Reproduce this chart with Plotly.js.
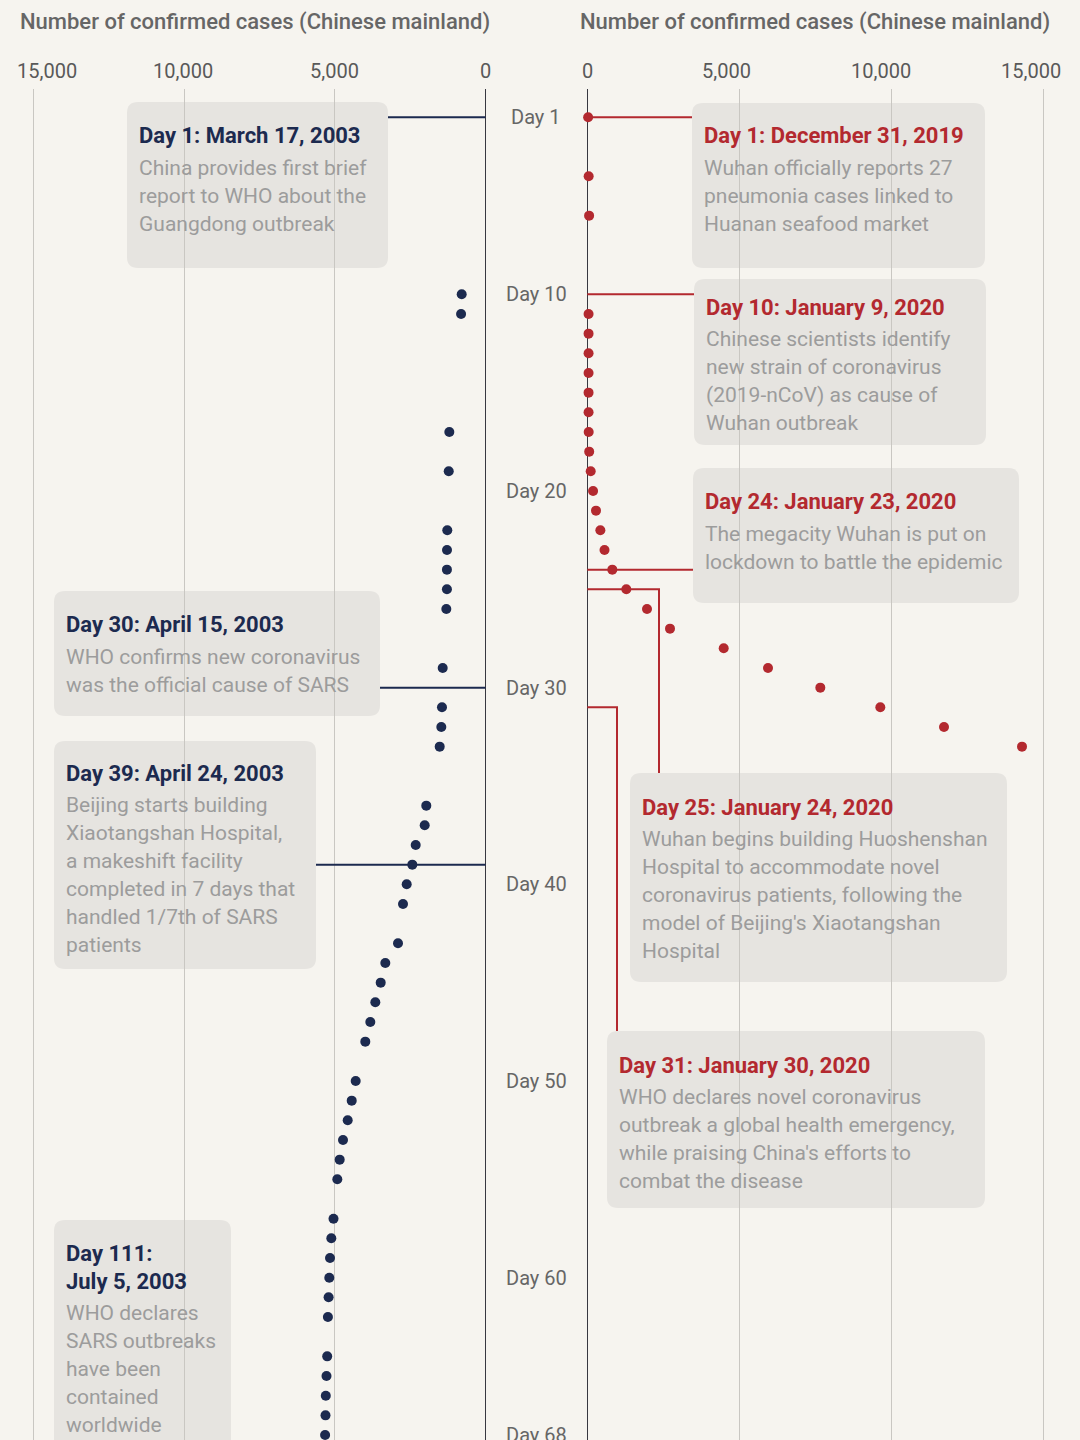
<!DOCTYPE html>
<html>
<head>
<meta charset="utf-8">
<script src="https://cdn.plot.ly/plotly-3.0.1.min.js"></script>
<style>
  html, body { margin: 0; padding: 0; background: #f6f4ef; }
  #chart { width: 1080px; height: 1440px; }
</style>
</head>
<body>
<div id="chart"></div>
<script>
// ---------------- DATA ----------------
// SARS 2003 (left panel): day number and confirmed cases (Chinese mainland)
const sarsDays  = [10, 11, 17, 19, 22, 23, 24, 25, 26, 29, 31, 32, 33, 36, 37, 38, 39, 40, 41, 43, 44, 45, 46, 47, 48, 50, 51, 52, 53, 54, 55, 57, 58, 59, 60, 61, 62, 64, 65, 66, 67, 68];
const sarsCases = [790, 810, 1200, 1220, 1268, 1278, 1280, 1280, 1300, 1420, 1444, 1467, 1520, 1965, 2018, 2316, 2429, 2615, 2738, 2904, 3325, 3478, 3657, 3823, 3989, 4308, 4440, 4573, 4729, 4839, 4918, 5044, 5117, 5160, 5184, 5207, 5230, 5253, 5277, 5300, 5310, 5323];

// 2019-nCoV (right panel)
const covidDays  = [1, 4, 6, 11, 12, 13, 14, 15, 16, 17, 18, 19, 20, 21, 22, 23, 24, 25, 26, 27, 28, 29, 30, 31, 32, 33];
const covidCases = [27, 44, 59, 41, 41, 41, 41, 41, 41, 45, 62, 112, 190, 286, 430, 566, 823, 1284, 1965, 2722, 4490, 5948, 7670, 9645, 11741, 14309];

// Axis ticks
const caseTickVals   = [0, 5000, 10000, 15000];
const caseTickLabels = ['0', '5,000', '10,000', '15,000'];
const dayTickDays    = [1, 10, 20, 30, 40, 50, 60, 68];
const dayTickLabels  = ['Day 1', 'Day 10', 'Day 20', 'Day 30', 'Day 40', 'Day 50', 'Day 60', 'Day 68'];
const axisTitleText  = 'Number of confirmed cases (Chinese mainland)';

// Events
const sarsEventDays   = [1, 30, 39, 111];
const sarsEventTitles = [
  ['Day 1: March 17, 2003'],
  ['Day 30: April 15, 2003'],
  ['Day 39: April 24, 2003'],
  ['Day 111:', 'July 5, 2003']
];
const sarsEventTexts = [
  ['China provides first brief', 'report to WHO about the', 'Guangdong outbreak'],
  ['WHO confirms new coronavirus', 'was the official cause of SARS'],
  ['Beijing starts building', 'Xiaotangshan Hospital,', 'a makeshift facility', 'completed in 7 days that', 'handled 1/7th of SARS', 'patients'],
  ['WHO declares', 'SARS outbreaks', 'have been', 'contained', 'worldwide']
];

const covidEventDays   = [1, 10, 24, 25, 31];
const covidEventTitles = [
  ['Day 1: December 31, 2019'],
  ['Day 10: January 9, 2020'],
  ['Day 24: January 23, 2020'],
  ['Day 25: January 24, 2020'],
  ['Day 31: January 30, 2020']
];
const covidEventTexts = [
  ['Wuhan officially reports 27', 'pneumonia cases linked to', 'Huanan seafood market'],
  ['Chinese scientists identify', 'new strain of coronavirus', '(2019-nCoV) as cause of', 'Wuhan outbreak'],
  ['The megacity Wuhan is put on', 'lockdown to battle the epidemic'],
  ['Wuhan begins building Huoshenshan', 'Hospital to accommodate novel', 'coronavirus patients, following the', "model of Beijing's Xiaotangshan", 'Hospital'],
  ['WHO declares novel coronavirus', 'outbreak a global health emergency,', "while praising China's efforts to", 'combat the disease']
];

// ---------------- LAYOUT GEOMETRY (pixels) ----------------
const W = 1080, H = 1440, MT = 89;
const LEFT_DOMAIN_PX  = [0, 510];
const RIGHT_DOMAIN_PX = [560, 1080];
const LEFT_RANGE  = [16112, -813];
const RIGHT_RANGE = [-899, 16218];
const Y_RANGE     = [68.254, -0.439];
const TICK_LABEL_Y = 71;
const TITLE_Y = 22;
const LEFT_TICK_SHIFT  = [0, 0, -1, 13];   // label nudges (px) for 0, 5,000, 10,000, 15,000
const RIGHT_TICK_SHIFT = [0, -13, -10, -12];

// annotation box geometry (x0, x1, y0, y1 in px; elbow = x of vertical connector; ty = title offset)
const sarsBoxes = [
  {x0: 127, x1: 388, y0: 102, y1: 268, ty: 34},
  {x0: 54,  x1: 380, y0: 591, y1: 716, ty: 34},
  {x0: 54,  x1: 316, y0: 741, y1: 969, ty: 32},
  {x0: 54,  x1: 231, y0: 1220, y1: 1470, ty: 33}
];
const covidBoxes = [
  {x0: 692, x1: 985,  y0: 103, y1: 268, ty: 33},
  {x0: 694, x1: 986,  y0: 279, y1: 445, ty: 28},
  {x0: 693, x1: 1019, y0: 468, y1: 603, ty: 34},
  {x0: 630, x1: 1007, y0: 773, y1: 982, ty: 34, elbow: 659},
  {x0: 607, x1: 985,  y0: 1031, y1: 1208, ty: 34, elbow: 617}
];

const FONT = 'Roboto, "Open Sans", sans-serif';
const BG = '#f6f4ef';
const BOX_FILL = '#e6e4e0';
const NAVY = '#1c2a4f';
const RED = '#b3292f';
const BODY_GRAY = '#9c9c9c';

function pxX(px) { return px / W; }
function pxY(py) { return (H - py) / (H - MT); }
function pxToDay(py) {
  const frac = (py - MT) / (H - MT);
  return Y_RANGE[1] + frac * (Y_RANGE[0] - Y_RANGE[1]);
}
function pxToVal(px, domPx, range) {
  const f = (px - domPx[0]) / (domPx[1] - domPx[0]);
  return range[0] + f * (range[1] - range[0]);
}

function roundRect(b, r) {
  const P = (x, y) => pxX(x).toFixed(5) + ',' + pxY(y).toFixed(5);
  return 'M' + P(b.x0 + r, b.y0) + ' L' + P(b.x1 - r, b.y0) + ' Q' + P(b.x1, b.y0) + ' ' + P(b.x1, b.y0 + r) +
         ' L' + P(b.x1, b.y1 - r) + ' Q' + P(b.x1, b.y1) + ' ' + P(b.x1 - r, b.y1) +
         ' L' + P(b.x0 + r, b.y1) + ' Q' + P(b.x0, b.y1) + ' ' + P(b.x0, b.y1 - r) +
         ' L' + P(b.x0, b.y0 + r) + ' Q' + P(b.x0, b.y0) + ' ' + P(b.x0 + r, b.y0) + ' Z';
}

// ---------------- TRACES ----------------
const traces = [
  {
    type: 'scatter', mode: 'markers', x: sarsCases, y: sarsDays, xaxis: 'x', yaxis: 'y',
    marker: {size: 10, color: NAVY}, hoverinfo: 'skip', cliponaxis: false
  },
  {
    type: 'scatter', mode: 'markers', x: covidCases, y: covidDays, xaxis: 'x2', yaxis: 'y',
    marker: {size: 10, color: RED}, hoverinfo: 'skip', cliponaxis: false
  }
];

// ---------------- SHAPES & ANNOTATIONS ----------------
const shapes = [];
const annotations = [];

function addEvent(day, titles, texts, box, color, side) {
  shapes.push({type: 'path', xref: 'paper', yref: 'paper', path: roundRect(box, 11),
               fillcolor: BOX_FILL, line: {width: 0}, layer: 'below'});
  // connector
  if (day <= Y_RANGE[0]) {
    if (side === 'left') {
      const xEnd = pxToVal(box.x1, LEFT_DOMAIN_PX, LEFT_RANGE);
      shapes.push({type: 'line', xref: 'x', yref: 'y', x0: 0, x1: xEnd, y0: day, y1: day,
                   line: {color: color, width: 2}, layer: 'between'});
    } else if (box.elbow) {
      const xe = pxToVal(box.elbow, RIGHT_DOMAIN_PX, RIGHT_RANGE);
      const yTop = pxToDay(box.y0);
      shapes.push({type: 'path', xref: 'x2', yref: 'y',
                   path: 'M0,' + day + ' L' + xe + ',' + day + ' L' + xe + ',' + yTop,
                   line: {color: color, width: 2}, layer: 'between'});
    } else {
      const xEnd = pxToVal(box.x0, RIGHT_DOMAIN_PX, RIGHT_RANGE);
      shapes.push({type: 'line', xref: 'x2', yref: 'y', x0: 0, x1: xEnd, y0: day, y1: day,
                   line: {color: color, width: 2}, layer: 'between'});
    }
  }
  const tx = box.x0 + 10;
  let y = box.y0 + box.ty;
  titles.forEach((t) => {
    annotations.push({xref: 'paper', yref: 'paper', x: pxX(tx), y: pxY(y), xanchor: 'left', yanchor: 'middle',
      text: '<b>' + t + '</b>', showarrow: false, align: 'left',
      font: {family: FONT, size: 22, color: color}});
    y += 28;
  });
  y += 4;
  texts.forEach((t) => {
    annotations.push({xref: 'paper', yref: 'paper', x: pxX(tx), y: pxY(y), xanchor: 'left', yanchor: 'middle',
      text: t, showarrow: false, align: 'left',
      font: {family: FONT, size: 21, color: BODY_GRAY}});
    y += 28;
  });
}

sarsEventDays.forEach((d, i) => addEvent(d, sarsEventTitles[i], sarsEventTexts[i], sarsBoxes[i], NAVY, 'left'));
covidEventDays.forEach((d, i) => addEvent(d, covidEventTitles[i], covidEventTexts[i], covidBoxes[i], RED, 'right'));

// day labels in the middle column
dayTickDays.forEach((d, i) => {
  annotations.push({xref: 'paper', yref: 'y', x: pxX(536), y: d, xanchor: 'center', yanchor: 'middle',
    text: dayTickLabels[i], showarrow: false, font: {family: FONT, size: 20, color: '#666666'}});
});

// case tick labels (tied to the axes' tick values)
caseTickVals.forEach((v, i) => {
  annotations.push({xref: 'x', yref: 'paper', x: v, y: pxY(TICK_LABEL_Y), xanchor: 'center', yanchor: 'middle',
    xshift: LEFT_TICK_SHIFT[i], text: caseTickLabels[i], showarrow: false,
    font: {family: FONT, size: 20, color: '#595959'}});
  annotations.push({xref: 'x2', yref: 'paper', x: v, y: pxY(TICK_LABEL_Y), xanchor: 'center', yanchor: 'middle',
    xshift: RIGHT_TICK_SHIFT[i], text: caseTickLabels[i], showarrow: false,
    font: {family: FONT, size: 20, color: '#595959'}});
});

// axis titles
[[255], [815]].forEach(([cx]) => {
  annotations.push({xref: 'paper', yref: 'paper', x: pxX(cx), y: pxY(TITLE_Y), xanchor: 'center', yanchor: 'middle',
    text: axisTitleText, showarrow: false,
    font: {family: FONT, size: 22, color: '#666666', weight: 500}});
});

const axisCommon = {
  side: 'top', tickmode: 'array', tickvals: caseTickVals,
  showgrid: true, gridcolor: '#c9c7c2', gridwidth: 1,
  zeroline: true, zerolinecolor: '#383840', zerolinewidth: 1.6,
  showline: false, ticks: '', fixedrange: true, showticklabels: false
};

const layout = {
  width: W, height: H,
  margin: {l: 0, r: 0, t: MT, b: 0, pad: 0},
  paper_bgcolor: BG, plot_bgcolor: BG,
  showlegend: false, hovermode: false,
  xaxis: Object.assign({}, axisCommon, {domain: [LEFT_DOMAIN_PX[0] / W, LEFT_DOMAIN_PX[1] / W], range: LEFT_RANGE, anchor: 'y'}),
  xaxis2: Object.assign({}, axisCommon, {domain: [RIGHT_DOMAIN_PX[0] / W, RIGHT_DOMAIN_PX[1] / W], range: RIGHT_RANGE, anchor: 'y'}),
  yaxis: {domain: [0, 1], range: Y_RANGE, showticklabels: false, showgrid: false, zeroline: false,
          showline: false, ticks: '', fixedrange: true, anchor: 'x'},
  shapes: shapes,
  annotations: annotations
};

Plotly.newPlot('chart', traces, layout, {staticPlot: true, displayModeBar: false});
</script>
</body>
</html>
